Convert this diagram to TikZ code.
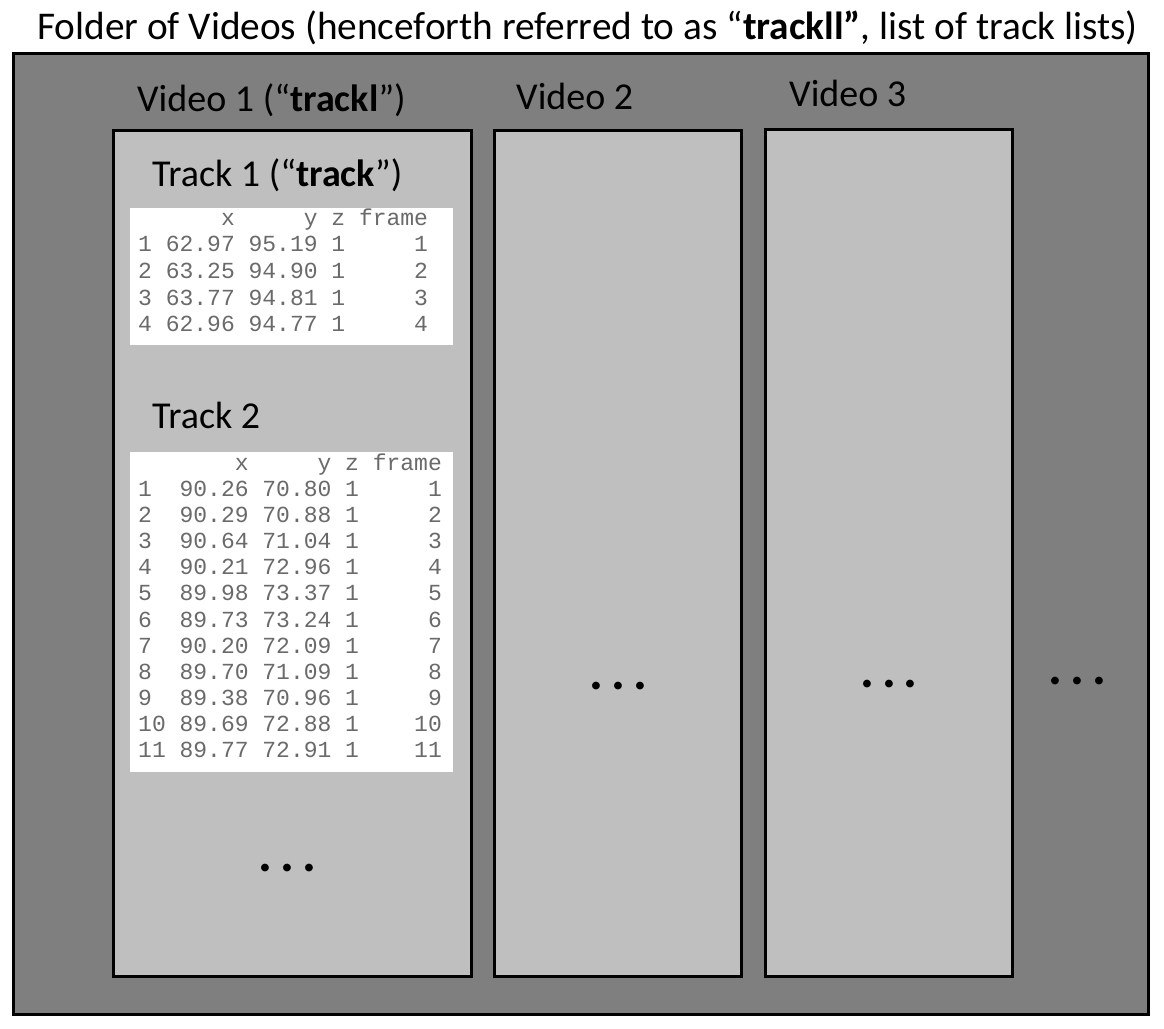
\documentclass[tikz,border=0pt]{standalone}
\usepackage{fontspec}
\setmainfont{Carlito}
\newfontfamily\tablefont{Liberation Mono}
\definecolor{outergray}{HTML}{7F7F7F}
\definecolor{boxgray}{HTML}{BFBFBF}
\definecolor{tabtext}{HTML}{6A6A6A}
\begin{document}
\begin{tikzpicture}[x=1pt,y=-1pt,
  outerbox/.style={draw=black,line width=3pt,fill=outergray},
  videobox/.style={draw=black,line width=3pt,fill=boxgray},
  tablebg/.style={fill=white},
  lbl/.style={anchor=base west,inner sep=0pt,font=\fontsize{38}{44}\selectfont},
  titlelbl/.style={anchor=base west,inner sep=0pt,font=\fontsize{39.3}{45}\selectfont},
  tabline/.style={anchor=base west,inner sep=0pt,text=tabtext,font=\tablefont\fontsize{23}{26}\selectfont},
  dotrow/.style={anchor=base,inner sep=0pt,font=\bfseries\fontsize{52}{52}\selectfont}]
\useasboundingbox (0,0) rectangle (1164,1028);
\fill[white] (0,0) rectangle (1164,1028);
\draw[outerbox] (13,53) rectangle (1148,1014);
\draw[videobox] (113,130) rectangle (471,976);
\draw[videobox] (494,130) rectangle (741,976);
\draw[videobox] (765,129) rectangle (1012,976);
\fill[tablebg] (130,208) rectangle (453,345);
\fill[tablebg] (130,452) rectangle (453,772);
\node[titlelbl] (title) at (37,39) {Folder of Videos (henceforth referred to as “\textbf{trackll”}, list of track lists)};
\node[lbl] (v1) at (137,111) {Video 1 (“\textbf{trackl}”)};
\node[lbl] (v2) at (516,109) {Video 2};
\node[lbl] (v3) at (789,106) {Video 3};
\node[lbl] (t1) at (152,186) {Track 1 (“\textbf{track}”)};
\node[lbl] (t2) at (152,428) {Track 2};
\foreach \ln [count=\i from 0] in {~~~~~~x~~~~~y~z~frame,1~62.97~95.19~1~~~~~1,2~63.25~94.90~1~~~~~2,3~63.77~94.81~1~~~~~3,4~62.96~94.77~1~~~~~4}
  \node[tabline] (ta\i) at (138,225+26.7*\i) {\ln};
\foreach \ln [count=\i from 0] in {~~~~~~~x~~~~~y~z~frame,1~~90.26~70.80~1~~~~~1,2~~90.29~70.88~1~~~~~2,3~~90.64~71.04~1~~~~~3,4~~90.21~72.96~1~~~~~4,5~~89.98~73.37~1~~~~~5,6~~89.73~73.24~1~~~~~6,7~~90.20~72.09~1~~~~~7,8~~89.70~71.09~1~~~~~8,9~~89.38~70.96~1~~~~~9,10~89.69~72.88~1~~~~10,11~89.77~72.91~1~~~~11}
  \node[tabline] (tb\i) at (138,470+26.18*\i) {\ln};
\node[dotrow] (d1) at (287.3,871.7) {.\hspace{7.9pt}.\hspace{7.9pt}.};
\node[dotrow] (d2) at (618.3,689.1) {.\hspace{7.9pt}.\hspace{7.9pt}.};
\node[dotrow] (d3) at (889.1,687.3) {.\hspace{7.9pt}.\hspace{7.9pt}.};
\node[dotrow] (d4) at (1077.7,684.1) {.\hspace{7.9pt}.\hspace{7.9pt}.};
\end{tikzpicture}
\end{document}
